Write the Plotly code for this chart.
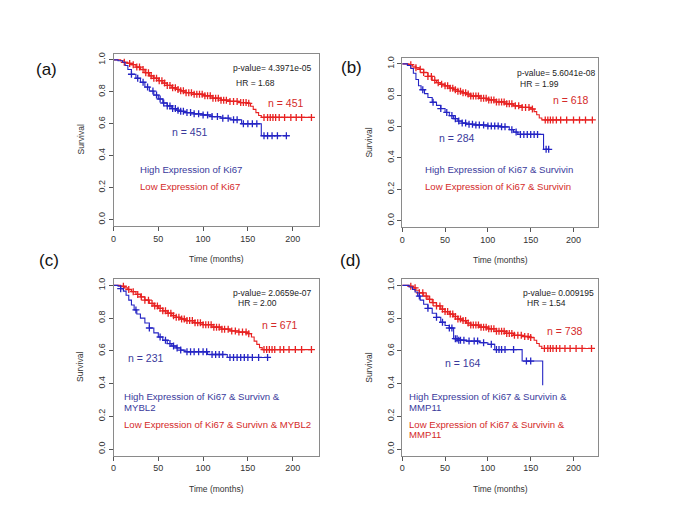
import numpy as np
import plotly.graph_objects as go

# ---- data ----
panels = ["(a)", "(b)", "(c)", "(d)"]
p_values = ["p-value= 4.3971e-05", "p-value= 5.6041e-08", "p-value= 2.0659e-07", "p-value= 0.009195"]
hr_values = ["HR = 1.68", "HR = 1.99", "HR = 2.00", "HR = 1.54"]
n_high = [451, 284, 231, 164]
n_low = [451, 618, 671, 738]
high_labels = [["High Expression of Ki67"],
               ["High Expression of Ki67 & Survivin"],
               ["High Expression of Ki67 & Survivn &", "MYBL2"],
               ["High Expression of Ki67 & Survivin &", "MMP11"]]
low_labels = [["Low Expression of Ki67"],
              ["Low Expression of Ki67 & Survivin"],
              ["Low Expression of Ki67 & Survivn & MYBL2"],
              ["Low Expression of Ki67 & Survivin &", "MMP11"]]

# (a) Ki67
high_a_t = [0, 5, 10, 13, 16, 20, 25, 30, 35, 40, 45, 50, 55, 60, 65, 70, 75, 80, 90, 100, 110, 120, 130, 143, 165, 193]
high_a_s = [1.0, 0.995, 0.985, 0.965, 0.94, 0.91, 0.885, 0.86, 0.83, 0.805, 0.78, 0.755, 0.73, 0.712, 0.695, 0.685, 0.678, 0.67, 0.662, 0.655, 0.645, 0.635, 0.625, 0.60, 0.525, 0.525]
high_a_c = [20, 27, 33, 38, 44, 48, 52, 56, 60, 63, 66, 69, 72, 75, 78, 82, 86, 90, 95, 100, 105, 110, 116, 122, 128, 134, 138, 145, 150, 155, 160, 168, 172, 177, 183, 193]
low_a_t = [0, 8, 12, 16, 20, 25, 30, 35, 40, 45, 50, 55, 60, 65, 70, 75, 80, 90, 100, 110, 120, 130, 140, 150, 153, 156, 159, 162, 165, 221]
low_a_s = [1.0, 0.995, 0.985, 0.978, 0.97, 0.955, 0.94, 0.92, 0.90, 0.885, 0.87, 0.855, 0.84, 0.825, 0.815, 0.806, 0.795, 0.785, 0.775, 0.76, 0.748, 0.74, 0.733, 0.728, 0.71, 0.69, 0.67, 0.652, 0.64, 0.64]
low_a_c = [12, 18, 22, 26, 29, 33, 36, 39, 42, 45, 48, 51, 54, 57, 60, 63, 66, 69, 72, 75, 78, 81, 84, 87, 90, 93, 96, 99, 102, 105, 108, 111, 114, 117, 120, 123, 126, 130, 134, 138, 142, 145, 148, 151, 168, 172, 175, 178, 181, 185, 191, 198, 204, 210, 221]

# (b) Ki67 & Survivin
high_b_t = [0, 6, 10, 13, 16, 19, 22, 26, 30, 35, 40, 45, 50, 55, 60, 65, 70, 75, 85, 100, 115, 125, 130, 135, 165, 171]
high_b_s = [1.0, 0.99, 0.97, 0.94, 0.90, 0.86, 0.835, 0.81, 0.785, 0.755, 0.735, 0.715, 0.69, 0.67, 0.65, 0.635, 0.622, 0.615, 0.61, 0.603, 0.598, 0.58, 0.565, 0.55, 0.455, 0.455]
high_b_c = [24, 36, 45, 52, 58, 62, 66, 70, 74, 78, 82, 86, 90, 95, 100, 104, 108, 112, 116, 120, 128, 133, 138, 142, 146, 150, 154, 158, 168, 171]
low_b_t = [0, 8, 12, 16, 20, 25, 30, 35, 40, 45, 50, 55, 60, 65, 70, 75, 80, 90, 100, 110, 120, 130, 140, 150, 154, 157, 160, 163, 222]
low_b_s = [1.0, 0.995, 0.985, 0.975, 0.965, 0.945, 0.92, 0.895, 0.88, 0.87, 0.86, 0.845, 0.835, 0.825, 0.815, 0.807, 0.795, 0.78, 0.77, 0.757, 0.745, 0.732, 0.722, 0.712, 0.695, 0.675, 0.655, 0.642, 0.642]
low_b_c = [10, 16, 21, 25, 30, 34, 38, 42, 46, 50, 53, 56, 59, 62, 65, 68, 71, 74, 77, 80, 83, 86, 89, 92, 95, 98, 101, 104, 107, 110, 113, 116, 119, 122, 125, 128, 132, 136, 140, 144, 148, 152, 167, 170, 173, 176, 180, 185, 192, 200, 207, 214, 222]

# (c) Ki67 & Survivin & MYBL2
high_c_t = [0, 5, 8, 11, 14, 17, 20, 23, 26, 30, 35, 40, 45, 50, 55, 60, 65, 70, 75, 80, 105, 127, 172]
high_c_s = [1.0, 0.995, 0.98, 0.965, 0.94, 0.91, 0.88, 0.85, 0.825, 0.80, 0.77, 0.74, 0.71, 0.685, 0.665, 0.645, 0.63, 0.618, 0.605, 0.595, 0.578, 0.56, 0.56]
high_c_c = [8, 25, 40, 52, 58, 63, 67, 71, 75, 82, 86, 90, 95, 100, 104, 110, 114, 118, 122, 130, 134, 138, 142, 146, 150, 155, 162, 172]
low_c_t = [0, 8, 12, 16, 20, 25, 30, 35, 40, 45, 50, 55, 60, 65, 70, 75, 80, 90, 100, 110, 120, 130, 140, 150, 154, 157, 160, 163, 166, 221]
low_c_s = [1.0, 0.995, 0.985, 0.975, 0.962, 0.945, 0.93, 0.91, 0.89, 0.875, 0.86, 0.845, 0.83, 0.815, 0.805, 0.795, 0.785, 0.772, 0.76, 0.745, 0.733, 0.722, 0.715, 0.705, 0.685, 0.66, 0.64, 0.62, 0.608, 0.608]
low_c_c = [11, 17, 22, 27, 31, 35, 39, 43, 46, 49, 52, 55, 58, 61, 64, 67, 70, 73, 76, 79, 82, 85, 88, 91, 94, 97, 100, 103, 106, 109, 112, 115, 118, 121, 124, 128, 132, 136, 140, 144, 148, 151, 168, 171, 174, 177, 180, 186, 190, 196, 203, 210, 221]

# (d) Ki67 & Survivin & MMP11
high_d_t = [0, 8, 12, 15, 18, 21, 25, 30, 35, 40, 45, 50, 55, 60, 65, 75, 90, 100, 108, 140, 164]
high_d_s = [1.0, 0.99, 0.975, 0.96, 0.935, 0.91, 0.885, 0.86, 0.83, 0.805, 0.775, 0.755, 0.74, 0.675, 0.665, 0.66, 0.65, 0.64, 0.608, 0.538, 0.39]
high_d_c = [20, 30, 40, 47, 55, 58, 62, 64, 66, 68, 72, 78, 84, 88, 95, 104, 110, 113, 116, 120, 130, 145, 150]
low_d_t = [0, 8, 12, 16, 20, 25, 30, 35, 40, 45, 50, 55, 60, 65, 70, 75, 80, 90, 100, 110, 120, 130, 140, 150, 154, 157, 160, 163, 221]
low_d_s = [1.0, 0.995, 0.985, 0.97, 0.955, 0.935, 0.915, 0.895, 0.875, 0.855, 0.84, 0.825, 0.81, 0.795, 0.785, 0.77, 0.758, 0.745, 0.735, 0.72, 0.707, 0.695, 0.688, 0.682, 0.665, 0.645, 0.628, 0.615, 0.615]
low_d_c = [10, 15, 20, 24, 28, 32, 36, 40, 44, 47, 50, 53, 56, 59, 62, 65, 68, 71, 74, 77, 80, 83, 86, 89, 92, 95, 98, 101, 104, 107, 110, 113, 116, 119, 122, 125, 128, 131, 135, 139, 143, 147, 150, 166, 170, 173, 176, 180, 184, 190, 196, 203, 210, 221]

curves = [
    (high_a_t, high_a_s, high_a_c, low_a_t, low_a_s, low_a_c),
    (high_b_t, high_b_s, high_b_c, low_b_t, low_b_s, low_b_c),
    (high_c_t, high_c_s, high_c_c, low_c_t, low_c_s, low_c_c),
    (high_d_t, high_d_s, high_d_c, low_d_t, low_d_s, low_d_c),
]

# page body has an 8px margin, so the figure is a bit smaller and shifted
OFF = 8
W, H = 669, 497
BLUE, RED = "#2424c4", "#e82222"
BLUE_TXT, RED_TXT = "#3a3a9c", "#d42a2a"
GREY_TXT = "#333333"
FONT = "Liberation Sans, Arial, sans-serif"

# plot boxes in window pixels: left, right, top, bottom
boxes = [(111, 317, 52.6, 225.4), (401, 598, 56.7, 226.3),
         (111, 317, 278.4, 455.6), (401, 598, 278.4, 455.6)]


def px(x):
    return (x - OFF) / W


def py(y):
    return 1 - (y - OFF) / H


def surv_at(t, s, c):
    idx = np.searchsorted(np.array(t), np.array(c), side="right") - 1
    return np.array(s)[idx]


fig = go.Figure()
layout = {}
for i, (ht, hs, hc, lt, ls, lc) in enumerate(curves):
    k = "" if i == 0 else str(i + 1)
    xa, ya = "x" + k, "y" + k
    for t, s, c, col in [(lt, ls, lc, RED), (ht, hs, hc, BLUE)]:
        fig.add_trace(go.Scatter(x=t, y=s, mode="lines", line=dict(color=col, width=1.1, shape="hv"),
                                 xaxis=xa, yaxis=ya, showlegend=False, hoverinfo="skip"))
        fig.add_trace(go.Scatter(x=c, y=surv_at(t, s, c), mode="markers",
                                 marker=dict(symbol="cross-thin", size=5, line=dict(color=col, width=1.3)),
                                 xaxis=xa, yaxis=ya, showlegend=False, hoverinfo="skip"))
    l, r, tp, b = boxes[i]
    common = dict(showline=True, mirror=True, linecolor="#8a8a8a", linewidth=1, showgrid=False,
                  zeroline=False, ticks="outside", ticklen=4, tickcolor="#555", tickwidth=1,
                  tickfont=dict(size=9, color=GREY_TXT, family=FONT))
    layout["xaxis" + k] = dict(domain=[px(l), px(r)], range=[0, 229], anchor=ya,
                               tickvals=[0, 50, 100, 150, 200], **common)
    layout["yaxis" + k] = dict(domain=[py(b), py(tp)], range=[-0.04, 1.04], anchor=xa,
                               tickvals=[0, 0.2, 0.4, 0.6, 0.8, 1.0], tickformat=".1f",
                               tickangle=-90, **common)

ann = []


def txt(x, y, s, size, color=GREY_TXT, xanchor="center", angle=0):
    if xanchor == "left":
        x -= 3
    ann.append(dict(x=px(x), y=py(y), xref="paper", yref="paper", text=s, showarrow=False,
                    xanchor=xanchor, yanchor="middle", textangle=angle,
                    font=dict(size=size, color=color, family=FONT)))


# per-panel text positions (window pixels)
label_xy = [(44, 69), (350, 67), (46, 260), (349, 260)]
pval_xy = [(232, 67), (517, 72), (232, 293), (523, 293)]
hr_xy = [(235, 82), (520, 83), (237, 303), (527, 303)]
nlow_xy = [(284, 102), (570, 99), (278, 325), (564, 331)]
nhigh_xy = [(187, 131), (456, 137), (143, 358), (462, 363)]
leg_x = [139, 425, 123, 409]
high_y = [[169], [169], [396, 407], [396, 407]]
low_y = [[186], [186], [424], [424, 434]]

for i in range(4):
    l, r, tp, b = boxes[i]
    txt(*label_xy[i], panels[i], 17, "#111111")
    txt(pval_xy[i][0], pval_xy[i][1], p_values[i], 8.5, "#222222", xanchor="left")
    txt(hr_xy[i][0], hr_xy[i][1], hr_values[i], 8.5, "#222222", xanchor="left")
    txt(*nlow_xy[i], "n = %d" % n_low[i], 10.5, RED_TXT)
    txt(*nhigh_xy[i], "n = %d" % n_high[i], 10.5, BLUE_TXT)
    for line, yy in zip(high_labels[i], high_y[i]):
        txt(leg_x[i], yy, line, 9.6, BLUE_TXT, xanchor="left")
    for line, yy in zip(low_labels[i], low_y[i]):
        txt(leg_x[i], yy, line, 9.6, RED_TXT, xanchor="left")
    txt((l + r) / 2, b + 33, "Time (months)", 8.5)
    txt(l - 33, (tp + b) / 2, "Survival", 8.5, angle=-90)

fig.update_layout(width=W, height=H, autosize=False, margin=dict(l=0, r=0, t=0, b=0),
                  paper_bgcolor="white", plot_bgcolor="white", annotations=ann, **layout)
fig.write_html("out.html")
